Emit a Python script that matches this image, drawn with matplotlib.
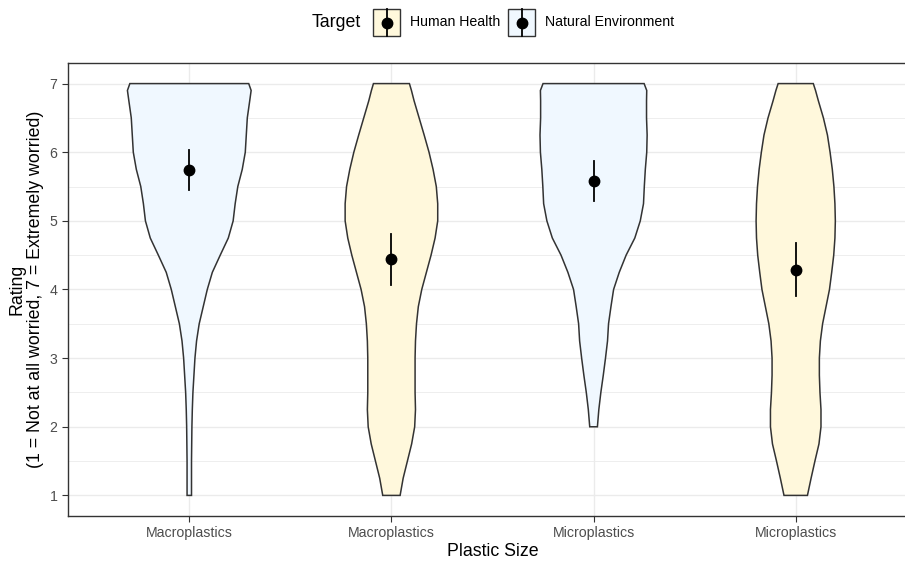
import matplotlib
matplotlib.use("Agg")
import matplotlib.pyplot as plt
from matplotlib.patches import Rectangle
from matplotlib.lines import Line2D

plt.rcParams["font.family"] = ["Liberation Sans", "DejaVu Sans"]

# categories, left to right
labels = ["Macroplastics", "Macroplastics", "Microplastics", "Microplastics"]
targets = ["Natural Environment", "Human Health", "Natural Environment", "Human Health"]

# violin outlines: half width (x-axis units) read at each rating level
levels_full = [1, 1.25, 1.5, 1.75, 2, 2.25, 2.5, 2.75, 3, 3.25, 3.5, 3.75, 4,
               4.25, 4.5, 4.75, 5, 5.25, 5.5, 5.75, 6, 6.25, 6.5, 6.75, 6.9, 7]
macro_env = [0.011, 0.011, 0.011, 0.012, 0.013, 0.015, 0.018, 0.023, 0.028, 0.036,
             0.049, 0.069, 0.089, 0.114, 0.153, 0.193, 0.217, 0.227, 0.240, 0.262,
             0.277, 0.282, 0.287, 0.299, 0.306, 0.294]
macro_hh = [0.043, 0.058, 0.079, 0.100, 0.115, 0.119, 0.117, 0.117, 0.117, 0.119,
            0.124, 0.133, 0.150, 0.173, 0.196, 0.216, 0.229, 0.229, 0.222, 0.206,
            0.186, 0.162, 0.137, 0.112, 0.099, 0.089]
levels_micro_env = [2, 2.25, 2.5, 2.75, 3, 3.25, 3.5, 3.75, 4, 4.25, 4.5, 4.75, 5,
                    5.25, 5.5, 5.75, 6, 6.25, 6.5, 6.75, 6.9, 7]
micro_env = [0.019, 0.026, 0.036, 0.048, 0.059, 0.069, 0.074, 0.086, 0.099, 0.127,
             0.161, 0.204, 0.231, 0.247, 0.251, 0.256, 0.263, 0.265, 0.262, 0.262,
             0.263, 0.250]
micro_hh = [0.058, 0.076, 0.095, 0.115, 0.125, 0.125, 0.120, 0.117, 0.117, 0.122,
            0.133, 0.150, 0.167, 0.178, 0.188, 0.194, 0.196, 0.194, 0.189, 0.181,
            0.170, 0.157, 0.137, 0.112, 0.098, 0.087]

# mean and 95% CI per violin
means = [5.74, 4.44, 5.58, 4.29]
ci_low = [5.45, 4.07, 5.29, 3.90]
ci_high = [6.03, 4.81, 5.87, 4.68]

legend_order = ["Human Health", "Natural Environment"]
colors = {"Human Health": "#FFF8DC", "Natural Environment": "#F0F8FF"}
outlines = [(levels_full, macro_env), (levels_full, macro_hh),
            (levels_micro_env, micro_env), (levels_full, micro_hh)]

W, H = 905, 561
fig = plt.figure(figsize=(W / 100, H / 100), dpi=100)
ax = fig.add_axes([68 / W, 45 / H, 849 / W, 453 / H])

for i, (lv, hw) in enumerate(outlines):
    xc = i + 1
    left = [xc - w for w in hw]
    right = [xc + w for w in hw]
    xs = left + right[::-1] + [left[0]]
    ys = lv + lv[::-1] + [lv[0]]
    ax.fill(xs, ys, facecolor=colors[targets[i]], edgecolor="#333333",
            linewidth=1.1, zorder=3)
    ax.plot([xc, xc], [ci_low[i], ci_high[i]], color="black", lw=1.3, zorder=4)
    ax.plot(xc, means[i], "o", color="black", markersize=7.5, zorder=5)

ax.set_xlim(0.4, 4.6)
ax.set_ylim(0.7, 7.3)
ax.set_xticks([1, 2, 3, 4])
ax.set_xticklabels(labels)
ax.set_yticks([1, 2, 3, 4, 5, 6, 7])
ax.set_yticks([1.5, 2.5, 3.5, 4.5, 5.5, 6.5], minor=True)
ax.tick_params(axis="both", which="major", labelsize=10.2, labelcolor="#4D4D4D",
               color="#333333", length=4, width=0.8)
ax.tick_params(axis="y", which="minor", length=0)
ax.grid(True, which="major", color="#EBEBEB", linewidth=1.0, zorder=0)
ax.grid(True, which="minor", axis="y", color="#EBEBEB", linewidth=0.6, zorder=0)
ax.set_axisbelow(True)
for s in ax.spines.values():
    s.set_color("#333333")
    s.set_linewidth(1.0)

ax.set_xlabel("Plastic Size", fontsize=12.8, labelpad=2)
ax.set_ylabel("Rating\n(1 = Not at all worried, 7 = Extremely worried)",
              fontsize=12.8, labelpad=4, linespacing=1.1)

# legend drawn by hand in figure pixels (top row)
def fx(px):
    return px / W

def fy(py):
    return 1 - py / H

fig.text(fx(312), fy(22.5), "Target", fontsize=12.8, va="center", ha="left")
for t, x0, tx in zip(legend_order, [373, 508], [410, 545]):
    fig.add_artist(Rectangle((fx(x0), fy(36)), fx(27), 27 / H, transform=fig.transFigure,
                             facecolor=colors[t], edgecolor="#333333", linewidth=1.0))
    fig.add_artist(Line2D([fx(x0 + 13.5)] * 2, [fy(36), fy(9)], transform=fig.transFigure,
                          color="black", lw=1.3))
    fig.add_artist(Line2D([fx(x0 + 13.5)], [fy(22.5)], transform=fig.transFigure,
                          marker="o", color="black", markersize=7.5, linestyle="none"))
    fig.text(fx(tx), fy(22.5), t, fontsize=10.2, va="center", ha="left")

fig.savefig("out.png", dpi=100)
